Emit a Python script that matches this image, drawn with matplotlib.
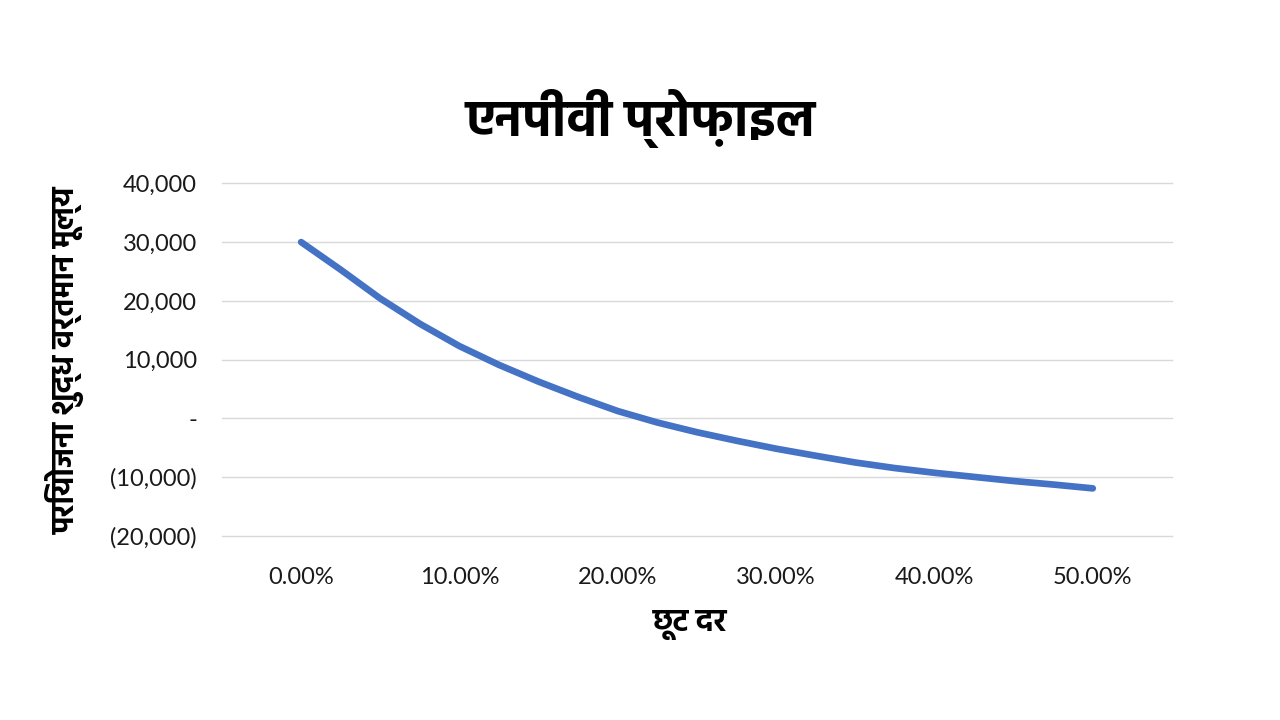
import matplotlib
matplotlib.use("Agg")
import matplotlib.pyplot as plt
from matplotlib.ticker import FuncFormatter, PercentFormatter

# discount rate vs project NPV
rates = [0.000, 0.025, 0.050, 0.075, 0.100, 0.125, 0.150, 0.175, 0.200, 0.225,
         0.250, 0.275, 0.300, 0.325, 0.350, 0.375, 0.400, 0.425, 0.450, 0.475, 0.500]
npv = [30000, 25300, 20400, 16100, 12300, 9100, 6250, 3650, 1250, -700,
       -2350, -3800, -5150, -6350, -7500, -8450, -9250, -9950, -10650, -11250, -11900]
x_ticks = [0.0, 0.1, 0.2, 0.3, 0.4, 0.5]
y_ticks = [-20000, -10000, 0, 10000, 20000, 30000, 40000]

title = "एनपीवी प्रोफ़ाइल"
x_title = "छूट दर"
y_title = "परियोजना शुद्ध वर्तमान मूल्य"

plt.rcParams['font.family'] = ['Lato', 'Noto Sans']
hindi = ['Hind', 'Noto Sans Devanagari', 'Noto Sans']


def acct(v, pos):
    # excel accounting style
    if v == 0:
        return "-"
    if v < 0:
        return "({:,.0f})".format(-v)
    return "{:,.0f}".format(v)


fig = plt.figure(figsize=(12.8, 7.2), dpi=100)
ax = fig.add_axes([0.1734, 0.2556, 0.7422, 0.4898])

ax.plot(rates, npv, color="#4472C4", lw=4.8, solid_capstyle="round", solid_joinstyle="round")

ax.set_xlim(-0.05, 0.55)
ax.set_ylim(-20000, 40000)
ax.set_xticks(x_ticks)
ax.set_yticks(y_ticks)
ax.xaxis.set_major_formatter(PercentFormatter(1.0, decimals=2))
ax.yaxis.set_major_formatter(FuncFormatter(acct))
ax.tick_params(length=0, labelsize=17, colors="#1a1a1a")
ax.tick_params(axis="x", pad=22)
ax.tick_params(axis="y", pad=18)

ax.grid(axis="y", color="#D9D9D9", lw=1)
for gl in ax.get_ygridlines():
    gl.set_clip_on(False)
ax.set_axisbelow(True)
for s in ax.spines.values():
    s.set_visible(False)

fig.text(0.5, 0.835, title, ha="center", va="center", fontsize=37, fontweight="bold",
         family=hindi)
fig.text(0.539, 0.132, x_title, ha="center", va="center", fontsize=22, fontweight="bold",
         family=hindi)
fig.text(0.051, 0.5, y_title, ha="center", va="center", rotation=90, fontsize=22,
         fontweight="bold", family=hindi)

fig.savefig("out.png", dpi=100)
